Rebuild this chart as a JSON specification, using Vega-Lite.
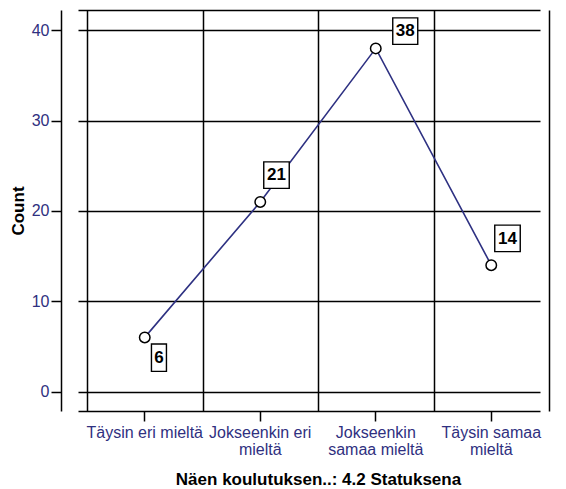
{
  "$schema": "https://vega.github.io/schema/vega-lite/v6.json",
  "autosize": "none",
  "width": 505,
  "height": 401,
  "padding": {"left": 61, "top": 10, "right": 0, "bottom": 78},
  "background": "white",
  "config": {
    "view": {"stroke": null},
    "font": "Liberation Sans"
  },
  "data": {
    "values": [
      {"cat": "Täysin eri mieltä", "count": 6},
      {"cat": "Jokseenkin eri mieltä", "count": 21},
      {"cat": "Jokseenkin samaa mieltä", "count": 38},
      {"cat": "Täysin samaa mieltä", "count": 14}
    ]
  },
  "resolve": {"axis": {"x": "independent", "y": "independent"}},
  "layer": [
    {
      "mark": {"type": "point", "opacity": 0},
      "encoding": {
        "x": {
          "field": "cat", "type": "nominal", "sort": null,
          "scale": {"type": "band", "range": [26, 488], "paddingInner": 0, "paddingOuter": 0},
          "axis": {"orient": "top", "grid": true, "tickBand": "extent", "ticks": false, "labels": false, "domain": false, "title": null, "gridColor": "black", "gridWidth": 1.5, "gridOpacity": 1}
        },
        "y": {
          "field": "count", "type": "quantitative",
          "scale": {"domain": [-2.15, 42.25], "nice": false, "zero": false},
          "axis": {"orient": "right", "values": [-2.15, 0, 10, 20, 30, 40, 42.25], "grid": true, "ticks": false, "labels": false, "domain": false, "title": null, "gridColor": "black", "gridWidth": 1.5, "gridOpacity": 1}
        }
      }
    },
    {
      "mark": {"type": "line", "color": "#2e3182", "strokeWidth": 1.6},
      "encoding": {
        "x": {
          "field": "cat", "type": "nominal", "sort": null,
          "scale": {"type": "band", "range": [26, 488], "paddingInner": 0, "paddingOuter": 0},
          "axis": {
            "orient": "bottom", "grid": false, "domain": false,
            "ticks": true, "tickSize": 10, "tickColor": "black", "tickWidth": 1.5,
            "labelAngle": 0, "labelFont": "Liberation Sans", "labelFontSize": 16, "labelColor": "#2f3080",
            "labelPadding": 3, "labelLineHeight": 17.5, "labelOverlap": false, "labelLimit": 0,
            "labelExpr": "datum.label == 'Jokseenkin eri mieltä' ? ['Jokseenkin eri', 'mieltä'] : datum.label == 'Jokseenkin samaa mieltä' ? ['Jokseenkin', 'samaa mieltä'] : datum.label == 'Täysin samaa mieltä' ? ['Täysin samaa', 'mieltä'] : datum.label",
            "title": "Näen koulutuksen..: 4.2 Statuksena",
            "titleFont": "Liberation Sans", "titleFontSize": 17, "titleFontWeight": "bold", "titleColor": "black", "titlePadding": 14
          }
        },
        "y": {
          "field": "count", "type": "quantitative",
          "scale": {"domain": [-2.15, 42.25], "nice": false, "zero": false},
          "axis": {
            "orient": "left", "values": [0, 10, 20, 30, 40], "grid": false,
            "domain": true, "domainColor": "black", "domainWidth": 1.5,
            "ticks": true, "tickSize": 10, "tickColor": "black", "tickWidth": 1.5,
            "labelFont": "Liberation Sans", "labelFontSize": 16, "labelColor": "#2f3080", "labelPadding": 2,
            "title": "Count", "titleFont": "Liberation Sans", "titleFontSize": 17, "titleFontWeight": "bold", "titleColor": "black", "titlePadding": 4
          }
        }
      }
    },
    {
      "mark": {"type": "point", "shape": "circle", "size": 110, "fill": "white", "stroke": "black", "strokeWidth": 1.5, "opacity": 1, "fillOpacity": 1},
      "encoding": {
        "x": {"field": "cat", "type": "nominal", "sort": null, "axis": null},
        "y": {"field": "count", "type": "quantitative", "axis": null}
      }
    },
    {
      "transform": [{"filter": "datum.count == 21 || datum.count == 14"}],
      "mark": {"type": "point", "shape": "M3.5,-40H29V-13.5H3.5Z", "size": 4, "fill": "white", "stroke": "black", "strokeWidth": 1.4, "opacity": 1, "fillOpacity": 1},
      "encoding": {
        "x": {"field": "cat", "type": "nominal", "sort": null, "axis": null},
        "y": {"field": "count", "type": "quantitative", "axis": null}
      }
    },
    {
      "transform": [{"filter": "datum.count == 38"}],
      "mark": {"type": "point", "shape": "M17,-30.5H42V-4H17Z", "size": 4, "fill": "white", "stroke": "black", "strokeWidth": 1.4, "opacity": 1, "fillOpacity": 1},
      "encoding": {
        "x": {"field": "cat", "type": "nominal", "sort": null, "axis": null},
        "y": {"field": "count", "type": "quantitative", "axis": null}
      }
    },
    {
      "transform": [{"filter": "datum.count == 6"}],
      "mark": {"type": "point", "shape": "M6.7,6.6H21.7V34H6.7Z", "size": 4, "fill": "white", "stroke": "black", "strokeWidth": 1.4, "opacity": 1, "fillOpacity": 1},
      "encoding": {
        "x": {"field": "cat", "type": "nominal", "sort": null, "axis": null},
        "y": {"field": "count", "type": "quantitative", "axis": null}
      }
    },
    {
      "transform": [{"filter": "datum.count == 21 || datum.count == 14"}],
      "mark": {"type": "text", "dx": 16.2, "dy": -26.5, "baseline": "middle", "align": "center", "font": "Liberation Sans", "fontSize": 17, "fontWeight": "bold", "color": "black"},
      "encoding": {
        "x": {"field": "cat", "type": "nominal", "sort": null, "axis": null},
        "y": {"field": "count", "type": "quantitative", "axis": null},
        "text": {"field": "count", "type": "quantitative"}
      }
    },
    {
      "transform": [{"filter": "datum.count == 38"}],
      "mark": {"type": "text", "dx": 29.5, "dy": -17, "baseline": "middle", "align": "center", "font": "Liberation Sans", "fontSize": 17, "fontWeight": "bold", "color": "black"},
      "encoding": {
        "x": {"field": "cat", "type": "nominal", "sort": null, "axis": null},
        "y": {"field": "count", "type": "quantitative", "axis": null},
        "text": {"field": "count", "type": "quantitative"}
      }
    },
    {
      "transform": [{"filter": "datum.count == 6"}],
      "mark": {"type": "text", "dx": 14.2, "dy": 20.3, "baseline": "middle", "align": "center", "font": "Liberation Sans", "fontSize": 17, "fontWeight": "bold", "color": "black"},
      "encoding": {
        "x": {"field": "cat", "type": "nominal", "sort": null, "axis": null},
        "y": {"field": "count", "type": "quantitative", "axis": null},
        "text": {"field": "count", "type": "quantitative"}
      }
    }
  ]
}
